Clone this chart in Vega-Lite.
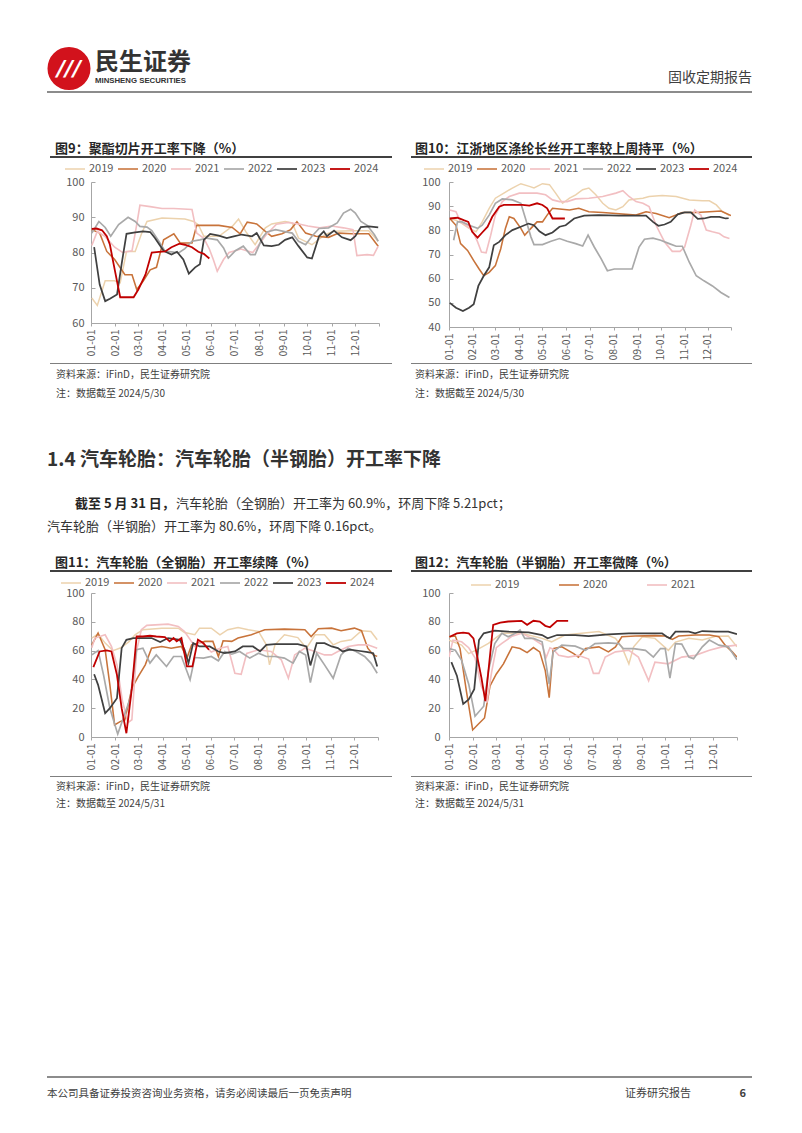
{
"$schema": "https://vega.github.io/schema/vega-lite/v6.json",
"padding": {"left": 47, "top": 46, "right": 0, "bottom": 0},
"autosize": {"type": "pad"},
"background": "white",
"config": {
  "font": "Noto Sans CJK SC",
  "view": {"stroke": null},
  "title": {"font": "Noto Sans CJK SC", "anchor": "start", "frame": "group", "subtitleFont": "Noto Sans CJK SC"},
  "axis": {"labelFont": "Noto Sans CJK SC", "grid": false, "domainColor": "#a6a6a6", "tickColor": "#a6a6a6", "labelColor": "#595959", "domainWidth": 1},
  "legend": {"labelFont": "Noto Sans CJK SC"}
},
"datasets": {
"fig9": [
{"year":"2019","day":1,"rate":67.1},{"year":"2019","day":8,"rate":65},{"year":"2019","day":18,"rate":72},{"year":"2019","day":30,"rate":72},{"year":"2019","day":37,"rate":71.4},{"year":"2019","day":45,"rate":80.3},{"year":"2019","day":56,"rate":80.3},{"year":"2019","day":64,"rate":85.3},{"year":"2019","day":71,"rate":88.8},{"year":"2019","day":90,"rate":89.8},{"year":"2019","day":119,"rate":89.5},{"year":"2019","day":130,"rate":88.8},{"year":"2019","day":136,"rate":87.9},{"year":"2019","day":143,"rate":84.6},{"year":"2019","day":162,"rate":84.6},{"year":"2019","day":179,"rate":87.4},{"year":"2019","day":187,"rate":89.5},{"year":"2019","day":196,"rate":86},{"year":"2019","day":208,"rate":82.2},{"year":"2019","day":221,"rate":87},{"year":"2019","day":229,"rate":88.1},{"year":"2019","day":246,"rate":88.8},{"year":"2019","day":255,"rate":88.4},{"year":"2019","day":263,"rate":84.1},{"year":"2019","day":280,"rate":82.2},{"year":"2019","day":297,"rate":85.1},{"year":"2019","day":308,"rate":86},{"year":"2019","day":331,"rate":86.2},{"year":"2019","day":352,"rate":86.2},{"year":"2019","day":364,"rate":83.2},
{"year":"2020","day":1,"rate":86.5},{"year":"2020","day":11,"rate":85.5},{"year":"2020","day":20,"rate":80.3},{"year":"2020","day":30,"rate":78},{"year":"2020","day":43,"rate":73.7},{"year":"2020","day":52,"rate":73.7},{"year":"2020","day":58,"rate":69.5},{"year":"2020","day":66,"rate":71.8},{"year":"2020","day":75,"rate":75.1},{"year":"2020","day":83,"rate":75.8},{"year":"2020","day":92,"rate":83.6},{"year":"2020","day":105,"rate":85.3},{"year":"2020","day":113,"rate":82.7},{"year":"2020","day":128,"rate":82.7},{"year":"2020","day":134,"rate":87.7},{"year":"2020","day":162,"rate":87.7},{"year":"2020","day":179,"rate":87.1},{"year":"2020","day":189,"rate":85.3},{"year":"2020","day":198,"rate":88.6},{"year":"2020","day":210,"rate":88.1},{"year":"2020","day":221,"rate":86},{"year":"2020","day":229,"rate":84.6},{"year":"2020","day":242,"rate":85.3},{"year":"2020","day":253,"rate":86.5},{"year":"2020","day":261,"rate":88.7},{"year":"2020","day":272,"rate":85.5},{"year":"2020","day":285,"rate":84.6},{"year":"2020","day":301,"rate":84.3},{"year":"2020","day":314,"rate":85.5},{"year":"2020","day":331,"rate":85.3},{"year":"2020","day":352,"rate":85.3},{"year":"2020","day":364,"rate":81.8},
{"year":"2021","day":1,"rate":82},{"year":"2021","day":8,"rate":86},{"year":"2021","day":18,"rate":84.5},{"year":"2021","day":30,"rate":81.5},{"year":"2021","day":40,"rate":80},{"year":"2021","day":52,"rate":80.5},{"year":"2021","day":58,"rate":88},{"year":"2021","day":62,"rate":93.4},{"year":"2021","day":75,"rate":93},{"year":"2021","day":90,"rate":92.5},{"year":"2021","day":105,"rate":92.5},{"year":"2021","day":128,"rate":92.2},{"year":"2021","day":134,"rate":85.5},{"year":"2021","day":143,"rate":84},{"year":"2021","day":150,"rate":81},{"year":"2021","day":155,"rate":78},{"year":"2021","day":160,"rate":74.7},{"year":"2021","day":168,"rate":78},{"year":"2021","day":175,"rate":80},{"year":"2021","day":190,"rate":81},{"year":"2021","day":205,"rate":80},{"year":"2021","day":212,"rate":82},{"year":"2021","day":222,"rate":85},{"year":"2021","day":235,"rate":88},{"year":"2021","day":250,"rate":88.5},{"year":"2021","day":265,"rate":88},{"year":"2021","day":275,"rate":87.5},{"year":"2021","day":290,"rate":87},{"year":"2021","day":305,"rate":87.5},{"year":"2021","day":320,"rate":87},{"year":"2021","day":332,"rate":86.5},{"year":"2021","day":337,"rate":79.1},{"year":"2021","day":350,"rate":79.4},{"year":"2021","day":358,"rate":79.2},{"year":"2021","day":364,"rate":81.8},
{"year":"2022","day":1,"rate":85.5},{"year":"2022","day":10,"rate":88.8},{"year":"2022","day":18,"rate":87.1},{"year":"2022","day":25,"rate":84.6},{"year":"2022","day":35,"rate":87.9},{"year":"2022","day":47,"rate":90},{"year":"2022","day":56,"rate":88.8},{"year":"2022","day":62,"rate":87.4},{"year":"2022","day":71,"rate":87.2},{"year":"2022","day":77,"rate":86.2},{"year":"2022","day":86,"rate":83.2},{"year":"2022","day":94,"rate":80.3},{"year":"2022","day":102,"rate":80.2},{"year":"2022","day":111,"rate":79.9},{"year":"2022","day":119,"rate":81.1},{"year":"2022","day":128,"rate":83.2},{"year":"2022","day":138,"rate":83.6},{"year":"2022","day":147,"rate":84.1},{"year":"2022","day":160,"rate":83.6},{"year":"2022","day":168,"rate":81.3},{"year":"2022","day":174,"rate":78.4},{"year":"2022","day":183,"rate":80.5},{"year":"2022","day":193,"rate":81.8},{"year":"2022","day":202,"rate":79.4},{"year":"2022","day":208,"rate":79.4},{"year":"2022","day":217,"rate":84.1},{"year":"2022","day":223,"rate":85.8},{"year":"2022","day":234,"rate":86.5},{"year":"2022","day":244,"rate":86},{"year":"2022","day":255,"rate":85.5},{"year":"2022","day":263,"rate":83.2},{"year":"2022","day":272,"rate":82.2},{"year":"2022","day":280,"rate":84.6},{"year":"2022","day":289,"rate":86.8},{"year":"2022","day":301,"rate":87},{"year":"2022","day":312,"rate":88.4},{"year":"2022","day":320,"rate":91.2},{"year":"2022","day":329,"rate":92.3},{"year":"2022","day":335,"rate":91.2},{"year":"2022","day":342,"rate":88.8},{"year":"2022","day":350,"rate":87.7},{"year":"2022","day":359,"rate":85.1},{"year":"2022","day":364,"rate":83.2},
{"year":"2023","day":4,"rate":81.5},{"year":"2023","day":11,"rate":70.9},{"year":"2023","day":18,"rate":66.2},{"year":"2023","day":24,"rate":66.9},{"year":"2023","day":33,"rate":68.1},{"year":"2023","day":39,"rate":77},{"year":"2023","day":45,"rate":85.3},{"year":"2023","day":56,"rate":85.7},{"year":"2023","day":66,"rate":86},{"year":"2023","day":75,"rate":85.8},{"year":"2023","day":81,"rate":84.1},{"year":"2023","day":92,"rate":80.5},{"year":"2023","day":102,"rate":79.4},{"year":"2023","day":109,"rate":80.2},{"year":"2023","day":117,"rate":78},{"year":"2023","day":124,"rate":74},{"year":"2023","day":132,"rate":75.8},{"year":"2023","day":138,"rate":76.7},{"year":"2023","day":143,"rate":83.6},{"year":"2023","day":151,"rate":85.3},{"year":"2023","day":162,"rate":84.8},{"year":"2023","day":172,"rate":84.1},{"year":"2023","day":181,"rate":84.6},{"year":"2023","day":191,"rate":85.1},{"year":"2023","day":204,"rate":84.6},{"year":"2023","day":210,"rate":85.5},{"year":"2023","day":219,"rate":82},{"year":"2023","day":229,"rate":81.8},{"year":"2023","day":238,"rate":82.2},{"year":"2023","day":246,"rate":83.6},{"year":"2023","day":255,"rate":84.3},{"year":"2023","day":263,"rate":81.8},{"year":"2023","day":274,"rate":78.6},{"year":"2023","day":280,"rate":78.3},{"year":"2023","day":289,"rate":84.6},{"year":"2023","day":295,"rate":86},{"year":"2023","day":299,"rate":84.6},{"year":"2023","day":308,"rate":86.2},{"year":"2023","day":318,"rate":84.3},{"year":"2023","day":329,"rate":83.5},{"year":"2023","day":335,"rate":84.6},{"year":"2023","day":342,"rate":87.2},{"year":"2023","day":352,"rate":87.4},{"year":"2023","day":364,"rate":87.1},
{"year":"2024","day":1,"rate":86.7},{"year":"2024","day":7,"rate":86.8},{"year":"2024","day":14,"rate":86.3},{"year":"2024","day":20,"rate":84.6},{"year":"2024","day":24,"rate":82.2},{"year":"2024","day":28,"rate":77.5},{"year":"2024","day":33,"rate":71.8},{"year":"2024","day":37,"rate":67.3},{"year":"2024","day":45,"rate":67.3},{"year":"2024","day":54,"rate":67.3},{"year":"2024","day":60,"rate":69.5},{"year":"2024","day":69,"rate":73.7},{"year":"2024","day":77,"rate":80},{"year":"2024","day":86,"rate":80.2},{"year":"2024","day":94,"rate":80.3},{"year":"2024","day":102,"rate":81.5},{"year":"2024","day":112,"rate":82.5},{"year":"2024","day":119,"rate":82.2},{"year":"2024","day":128,"rate":81.5},{"year":"2024","day":136,"rate":80.2},{"year":"2024","day":143,"rate":79.6},{"year":"2024","day":150,"rate":78.3}
],
"fig10": [
{"year":"2019","day":1,"rate":84.9},{"year":"2019","day":9,"rate":84.2},{"year":"2019","day":17,"rate":82.8},{"year":"2019","day":26,"rate":80.8},{"year":"2019","day":35,"rate":79.4},{"year":"2019","day":43,"rate":83.5},{"year":"2019","day":52,"rate":89.1},{"year":"2019","day":60,"rate":93.3},{"year":"2019","day":71,"rate":95.4},{"year":"2019","day":82,"rate":97.5},{"year":"2019","day":93,"rate":99.3},{"year":"2019","day":104,"rate":98.2},{"year":"2019","day":110,"rate":97.5},{"year":"2019","day":121,"rate":99.3},{"year":"2019","day":130,"rate":98.9},{"year":"2019","day":138,"rate":95.4},{"year":"2019","day":147,"rate":91.2},{"year":"2019","day":156,"rate":93.3},{"year":"2019","day":164,"rate":94.7},{"year":"2019","day":173,"rate":96.8},{"year":"2019","day":181,"rate":97.5},{"year":"2019","day":190,"rate":94.7},{"year":"2019","day":199,"rate":91.2},{"year":"2019","day":207,"rate":89.1},{"year":"2019","day":216,"rate":88.4},{"year":"2019","day":225,"rate":89.8},{"year":"2019","day":233,"rate":92.6},{"year":"2019","day":242,"rate":93},{"year":"2019","day":251,"rate":93.3},{"year":"2019","day":259,"rate":94},{"year":"2019","day":276,"rate":94.4},{"year":"2019","day":294,"rate":94},{"year":"2019","day":311,"rate":92.6},{"year":"2019","day":328,"rate":92.2},{"year":"2019","day":337,"rate":92.2},{"year":"2019","day":346,"rate":90.5},{"year":"2019","day":354,"rate":87.7},{"year":"2019","day":363,"rate":86.1},
{"year":"2020","day":1,"rate":84.9},{"year":"2020","day":9,"rate":82.1},{"year":"2020","day":15,"rate":74.5},{"year":"2020","day":24,"rate":71.7},{"year":"2020","day":32,"rate":67.5},{"year":"2020","day":39,"rate":64},{"year":"2020","day":45,"rate":61.2},{"year":"2020","day":52,"rate":62.6},{"year":"2020","day":60,"rate":65.4},{"year":"2020","day":67,"rate":72.4},{"year":"2020","day":73,"rate":80.8},{"year":"2020","day":78,"rate":85.6},{"year":"2020","day":84,"rate":84.9},{"year":"2020","day":93,"rate":80.8},{"year":"2020","day":98,"rate":78},{"year":"2020","day":106,"rate":80.8},{"year":"2020","day":114,"rate":83.5},{"year":"2020","day":121,"rate":83.5},{"year":"2020","day":127,"rate":86.3},{"year":"2020","day":134,"rate":89.1},{"year":"2020","day":143,"rate":88.8},{"year":"2020","day":156,"rate":88.4},{"year":"2020","day":168,"rate":89.1},{"year":"2020","day":181,"rate":87.7},{"year":"2020","day":199,"rate":87.4},{"year":"2020","day":216,"rate":87},{"year":"2020","day":242,"rate":86.3},{"year":"2020","day":255,"rate":87.7},{"year":"2020","day":268,"rate":87},{"year":"2020","day":285,"rate":85.2},{"year":"2020","day":302,"rate":87.4},{"year":"2020","day":320,"rate":87.4},{"year":"2020","day":337,"rate":87.7},{"year":"2020","day":352,"rate":88},{"year":"2020","day":365,"rate":86.1},
{"year":"2021","day":1,"rate":88.4},{"year":"2021","day":9,"rate":87.7},{"year":"2021","day":15,"rate":83.5},{"year":"2021","day":22,"rate":82.1},{"year":"2021","day":30,"rate":80.1},{"year":"2021","day":37,"rate":75.2},{"year":"2021","day":42,"rate":71},{"year":"2021","day":48,"rate":70.7},{"year":"2021","day":54,"rate":78},{"year":"2021","day":60,"rate":86.3},{"year":"2021","day":69,"rate":91.9},{"year":"2021","day":78,"rate":94},{"year":"2021","day":91,"rate":95.4},{"year":"2021","day":114,"rate":95.4},{"year":"2021","day":125,"rate":94.7},{"year":"2021","day":134,"rate":92.6},{"year":"2021","day":143,"rate":91.9},{"year":"2021","day":153,"rate":91.9},{"year":"2021","day":164,"rate":93},{"year":"2021","day":181,"rate":93.3},{"year":"2021","day":199,"rate":94},{"year":"2021","day":216,"rate":95.4},{"year":"2021","day":225,"rate":96.4},{"year":"2021","day":233,"rate":94},{"year":"2021","day":242,"rate":91.9},{"year":"2021","day":251,"rate":91.2},{"year":"2021","day":259,"rate":89.8},{"year":"2021","day":268,"rate":82.1},{"year":"2021","day":279,"rate":75.2},{"year":"2021","day":289,"rate":71.3},{"year":"2021","day":299,"rate":71.3},{"year":"2021","day":305,"rate":73.1},{"year":"2021","day":313,"rate":82.1},{"year":"2021","day":318,"rate":88.4},{"year":"2021","day":326,"rate":86.3},{"year":"2021","day":333,"rate":80.1},{"year":"2021","day":341,"rate":79.4},{"year":"2021","day":350,"rate":78.7},{"year":"2021","day":356,"rate":77.3},{"year":"2021","day":363,"rate":76.6},
{"year":"2022","day":6,"rate":75.9},{"year":"2022","day":11,"rate":83.5},{"year":"2022","day":17,"rate":83.5},{"year":"2022","day":26,"rate":82.1},{"year":"2022","day":37,"rate":80.8},{"year":"2022","day":43,"rate":82.1},{"year":"2022","day":52,"rate":86.3},{"year":"2022","day":60,"rate":91.2},{"year":"2022","day":69,"rate":93},{"year":"2022","day":82,"rate":92.6},{"year":"2022","day":93,"rate":91.2},{"year":"2022","day":99,"rate":84.9},{"year":"2022","day":106,"rate":77.3},{"year":"2022","day":110,"rate":74.1},{"year":"2022","day":121,"rate":74.1},{"year":"2022","day":132,"rate":75.5},{"year":"2022","day":143,"rate":76.6},{"year":"2022","day":153,"rate":75.5},{"year":"2022","day":164,"rate":74.5},{"year":"2022","day":173,"rate":73.5},{"year":"2022","day":180,"rate":78},{"year":"2022","day":188,"rate":73.1},{"year":"2022","day":197,"rate":68.2},{"year":"2022","day":205,"rate":63.3},{"year":"2022","day":214,"rate":64},{"year":"2022","day":227,"rate":64},{"year":"2022","day":237,"rate":64},{"year":"2022","day":246,"rate":73.1},{"year":"2022","day":253,"rate":76.3},{"year":"2022","day":264,"rate":76.8},{"year":"2022","day":274,"rate":75.9},{"year":"2022","day":285,"rate":74.5},{"year":"2022","day":294,"rate":73.4},{"year":"2022","day":302,"rate":73.4},{"year":"2022","day":311,"rate":66.8},{"year":"2022","day":320,"rate":61.2},{"year":"2022","day":330,"rate":59.1},{"year":"2022","day":341,"rate":57},{"year":"2022","day":352,"rate":54.3},{"year":"2022","day":363,"rate":52.2},
{"year":"2023","day":1,"rate":50},{"year":"2023","day":9,"rate":48},{"year":"2023","day":18,"rate":46.6},{"year":"2023","day":26,"rate":48},{"year":"2023","day":32,"rate":49.4},{"year":"2023","day":38,"rate":57},{"year":"2023","day":45,"rate":61.2},{"year":"2023","day":52,"rate":64.7},{"year":"2023","day":58,"rate":73.8},{"year":"2023","day":65,"rate":75.2},{"year":"2023","day":73,"rate":78},{"year":"2023","day":82,"rate":80.1},{"year":"2023","day":93,"rate":81.5},{"year":"2023","day":103,"rate":82.8},{"year":"2023","day":110,"rate":82.1},{"year":"2023","day":117,"rate":79.6},{"year":"2023","day":125,"rate":78},{"year":"2023","day":134,"rate":79.1},{"year":"2023","day":143,"rate":81.5},{"year":"2023","day":151,"rate":82.1},{"year":"2023","day":162,"rate":84.9},{"year":"2023","day":175,"rate":86.1},{"year":"2023","day":194,"rate":86.3},{"year":"2023","day":220,"rate":86.1},{"year":"2023","day":255,"rate":86.1},{"year":"2023","day":264,"rate":83.5},{"year":"2023","day":271,"rate":81.9},{"year":"2023","day":279,"rate":82.4},{"year":"2023","day":287,"rate":83.5},{"year":"2023","day":296,"rate":86.6},{"year":"2023","day":305,"rate":87.4},{"year":"2023","day":313,"rate":87.4},{"year":"2023","day":322,"rate":84.7},{"year":"2023","day":330,"rate":84.9},{"year":"2023","day":339,"rate":85.6},{"year":"2023","day":350,"rate":85.6},{"year":"2023","day":358,"rate":84.9},{"year":"2023","day":362,"rate":85},
{"year":"2024","day":1,"rate":84.9},{"year":"2024","day":11,"rate":85.2},{"year":"2024","day":19,"rate":84.2},{"year":"2024","day":25,"rate":83.5},{"year":"2024","day":30,"rate":79.4},{"year":"2024","day":37,"rate":77},{"year":"2024","day":43,"rate":79.1},{"year":"2024","day":50,"rate":81.5},{"year":"2024","day":56,"rate":85.6},{"year":"2024","day":65,"rate":89.8},{"year":"2024","day":71,"rate":90.5},{"year":"2024","day":82,"rate":90.5},{"year":"2024","day":95,"rate":90.5},{"year":"2024","day":104,"rate":90.2},{"year":"2024","day":114,"rate":91.2},{"year":"2024","day":121,"rate":90.5},{"year":"2024","day":127,"rate":89.1},{"year":"2024","day":134,"rate":84.9},{"year":"2024","day":140,"rate":84.9},{"year":"2024","day":150,"rate":84.9}
],
"fig11": [
{"year":"2019","day":1,"rate":68.7},{"year":"2019","day":9,"rate":71.5},{"year":"2019","day":18,"rate":65.2},{"year":"2019","day":28,"rate":60},{"year":"2019","day":38,"rate":62},{"year":"2019","day":48,"rate":66},{"year":"2019","day":56,"rate":71},{"year":"2019","day":66,"rate":74.5},{"year":"2019","day":90,"rate":75.6},{"year":"2019","day":111,"rate":75.6},{"year":"2019","day":119,"rate":72.5},{"year":"2019","day":132,"rate":71},{"year":"2019","day":138,"rate":75.6},{"year":"2019","day":153,"rate":75.6},{"year":"2019","day":164,"rate":71},{"year":"2019","day":174,"rate":74.5},{"year":"2019","day":187,"rate":76.1},{"year":"2019","day":200,"rate":74.5},{"year":"2019","day":213,"rate":73.3},{"year":"2019","day":223,"rate":64},{"year":"2019","day":227,"rate":50.1},{"year":"2019","day":234,"rate":64},{"year":"2019","day":246,"rate":71},{"year":"2019","day":263,"rate":69},{"year":"2019","day":274,"rate":61.7},{"year":"2019","day":285,"rate":71},{"year":"2019","day":297,"rate":71},{"year":"2019","day":308,"rate":64},{"year":"2019","day":318,"rate":66.4},{"year":"2019","day":331,"rate":67.5},{"year":"2019","day":344,"rate":73.8},{"year":"2019","day":356,"rate":73.3},{"year":"2019","day":364,"rate":67.5},
{"year":"2020","day":1,"rate":64},{"year":"2020","day":9,"rate":72.2},{"year":"2020","day":18,"rate":60.6},{"year":"2020","day":24,"rate":36.2},{"year":"2020","day":30,"rate":8.4},{"year":"2020","day":37,"rate":10.7},{"year":"2020","day":43,"rate":11.8},{"year":"2020","day":52,"rate":33.9},{"year":"2020","day":60,"rate":42},{"year":"2020","day":69,"rate":50.1},{"year":"2020","day":77,"rate":61.7},{"year":"2020","day":90,"rate":62.9},{"year":"2020","day":102,"rate":61.7},{"year":"2020","day":115,"rate":62.9},{"year":"2020","day":122,"rate":54.8},{"year":"2020","day":128,"rate":64},{"year":"2020","day":145,"rate":66.4},{"year":"2020","day":155,"rate":66.4},{"year":"2020","day":162,"rate":55.9},{"year":"2020","day":168,"rate":66.8},{"year":"2020","day":179,"rate":66.4},{"year":"2020","day":187,"rate":68.7},{"year":"2020","day":204,"rate":71},{"year":"2020","day":221,"rate":74.5},{"year":"2020","day":246,"rate":74.9},{"year":"2020","day":272,"rate":74.5},{"year":"2020","day":280,"rate":69.8},{"year":"2020","day":289,"rate":75.2},{"year":"2020","day":306,"rate":75.6},{"year":"2020","day":318,"rate":73.8},{"year":"2020","day":335,"rate":75.6},{"year":"2020","day":344,"rate":73.8},{"year":"2020","day":352,"rate":61.7},{"year":"2020","day":359,"rate":57},{"year":"2020","day":364,"rate":56},
{"year":"2021","day":1,"rate":62},{"year":"2021","day":5,"rate":68.7},{"year":"2021","day":18,"rate":71},{"year":"2021","day":26,"rate":62.9},{"year":"2021","day":33,"rate":50},{"year":"2021","day":40,"rate":25},{"year":"2021","day":47,"rate":10},{"year":"2021","day":52,"rate":12},{"year":"2021","day":58,"rate":60},{"year":"2021","day":64,"rate":74.5},{"year":"2021","day":71,"rate":77.5},{"year":"2021","day":98,"rate":78.4},{"year":"2021","day":111,"rate":76.8},{"year":"2021","day":119,"rate":73.3},{"year":"2021","day":132,"rate":62.9},{"year":"2021","day":140,"rate":66},{"year":"2021","day":153,"rate":59},{"year":"2021","day":164,"rate":61.7},{"year":"2021","day":174,"rate":62.9},{"year":"2021","day":183,"rate":44.3},{"year":"2021","day":191,"rate":43.6},{"year":"2021","day":198,"rate":58},{"year":"2021","day":213,"rate":60.6},{"year":"2021","day":229,"rate":59.4},{"year":"2021","day":242,"rate":53.6},{"year":"2021","day":251,"rate":40.8},{"year":"2021","day":259,"rate":57},{"year":"2021","day":272,"rate":61.7},{"year":"2021","day":285,"rate":59.4},{"year":"2021","day":297,"rate":57},{"year":"2021","day":306,"rate":57},{"year":"2021","day":314,"rate":59.4},{"year":"2021","day":327,"rate":62.9},{"year":"2021","day":340,"rate":64},{"year":"2021","day":352,"rate":64},{"year":"2021","day":364,"rate":61.7},
{"year":"2022","day":1,"rate":57},{"year":"2022","day":9,"rate":60},{"year":"2022","day":16,"rate":43},{"year":"2022","day":24,"rate":20},{"year":"2022","day":34,"rate":2},{"year":"2022","day":41,"rate":13},{"year":"2022","day":50,"rate":27},{"year":"2022","day":58,"rate":60.6},{"year":"2022","day":66,"rate":61.7},{"year":"2022","day":75,"rate":51.3},{"year":"2022","day":83,"rate":57},{"year":"2022","day":96,"rate":49},{"year":"2022","day":105,"rate":55.9},{"year":"2022","day":115,"rate":55.9},{"year":"2022","day":126,"rate":39.7},{"year":"2022","day":132,"rate":55.2},{"year":"2022","day":143,"rate":54.8},{"year":"2022","day":153,"rate":55.9},{"year":"2022","day":162,"rate":52.9},{"year":"2022","day":170,"rate":59.4},{"year":"2022","day":179,"rate":57.5},{"year":"2022","day":189,"rate":59.4},{"year":"2022","day":202,"rate":54.8},{"year":"2022","day":213,"rate":58.2},{"year":"2022","day":223,"rate":55.9},{"year":"2022","day":234,"rate":55.9},{"year":"2022","day":246,"rate":54.8},{"year":"2022","day":257,"rate":51.3},{"year":"2022","day":265,"rate":59.4},{"year":"2022","day":273,"rate":57},{"year":"2022","day":279,"rate":37.8},{"year":"2022","day":287,"rate":58.2},{"year":"2022","day":297,"rate":50.1},{"year":"2022","day":308,"rate":40.8},{"year":"2022","day":318,"rate":57},{"year":"2022","day":327,"rate":61.7},{"year":"2022","day":337,"rate":59.4},{"year":"2022","day":348,"rate":55.9},{"year":"2022","day":356,"rate":51.3},{"year":"2022","day":364,"rate":44.3},
{"year":"2023","day":4,"rate":43.6},{"year":"2023","day":9,"rate":36.2},{"year":"2023","day":18,"rate":16.5},{"year":"2023","day":24,"rate":20},{"year":"2023","day":33,"rate":26.9},{"year":"2023","day":39,"rate":61.7},{"year":"2023","day":45,"rate":67.5},{"year":"2023","day":54,"rate":68.7},{"year":"2023","day":77,"rate":68.7},{"year":"2023","day":88,"rate":65.9},{"year":"2023","day":98,"rate":68.7},{"year":"2023","day":113,"rate":67.5},{"year":"2023","day":119,"rate":60.6},{"year":"2023","day":124,"rate":51.3},{"year":"2023","day":130,"rate":65.2},{"year":"2023","day":138,"rate":62.9},{"year":"2023","day":151,"rate":62.9},{"year":"2023","day":162,"rate":59.4},{"year":"2023","day":170,"rate":58.2},{"year":"2023","day":183,"rate":59.4},{"year":"2023","day":193,"rate":62.9},{"year":"2023","day":206,"rate":62.9},{"year":"2023","day":215,"rate":59.4},{"year":"2023","day":223,"rate":64},{"year":"2023","day":234,"rate":64.5},{"year":"2023","day":263,"rate":64.5},{"year":"2023","day":274,"rate":62.9},{"year":"2023","day":279,"rate":49.7},{"year":"2023","day":287,"rate":65.2},{"year":"2023","day":297,"rate":65.2},{"year":"2023","day":306,"rate":62.9},{"year":"2023","day":314,"rate":61.7},{"year":"2023","day":320,"rate":59.4},{"year":"2023","day":329,"rate":60.6},{"year":"2023","day":340,"rate":59.9},{"year":"2023","day":352,"rate":58.9},{"year":"2023","day":359,"rate":58.2},{"year":"2023","day":364,"rate":49},
{"year":"2024","day":3,"rate":48.5},{"year":"2024","day":11,"rate":59.4},{"year":"2024","day":20,"rate":60.1},{"year":"2024","day":26,"rate":59.4},{"year":"2024","day":33,"rate":43.2},{"year":"2024","day":39,"rate":20},{"year":"2024","day":45,"rate":2.6},{"year":"2024","day":52,"rate":33.9},{"year":"2024","day":58,"rate":69.8},{"year":"2024","day":66,"rate":69.8},{"year":"2024","day":75,"rate":70.3},{"year":"2024","day":83,"rate":69.8},{"year":"2024","day":94,"rate":69.4},{"year":"2024","day":100,"rate":66.4},{"year":"2024","day":105,"rate":68.7},{"year":"2024","day":109,"rate":66.4},{"year":"2024","day":115,"rate":68.7},{"year":"2024","day":122,"rate":49},{"year":"2024","day":129,"rate":49},{"year":"2024","day":136,"rate":67.5},{"year":"2024","day":143,"rate":65.2},{"year":"2024","day":150,"rate":60.6}
],
"fig12": [
{"year":"2019","day":0,"rate":67.3},{"year":"2019","day":16,"rate":63.8},{"year":"2019","day":25,"rate":57.9},{"year":"2019","day":37,"rate":61},{"year":"2019","day":50,"rate":65},{"year":"2019","day":67,"rate":72},{"year":"2019","day":92,"rate":72},{"year":"2019","day":118,"rate":68.5},{"year":"2019","day":130,"rate":66.1},{"year":"2019","day":147,"rate":70.8},{"year":"2019","day":168,"rate":72},{"year":"2019","day":190,"rate":73.2},{"year":"2019","day":211,"rate":68.5},{"year":"2019","day":219,"rate":62.6},{"year":"2019","day":228,"rate":50.8},{"year":"2019","day":234,"rate":62.6},{"year":"2019","day":245,"rate":69.6},{"year":"2019","day":261,"rate":68.5},{"year":"2019","day":278,"rate":60.2},{"year":"2019","day":287,"rate":65.9},{"year":"2019","day":304,"rate":68.5},{"year":"2019","day":321,"rate":67.3},{"year":"2019","day":338,"rate":70},{"year":"2019","day":354,"rate":70.1},{"year":"2019","day":365,"rate":62.6},
{"year":"2020","day":0,"rate":69.6},{"year":"2020","day":8,"rate":70.1},{"year":"2020","day":14,"rate":61.4},{"year":"2020","day":22,"rate":32},{"year":"2020","day":30,"rate":4.9},{"year":"2020","day":37,"rate":8.9},{"year":"2020","day":45,"rate":13.2},{"year":"2020","day":52,"rate":35.5},{"year":"2020","day":60,"rate":43.8},{"year":"2020","day":69,"rate":50.8},{"year":"2020","day":80,"rate":62.6},{"year":"2020","day":90,"rate":61.4},{"year":"2020","day":99,"rate":58.6},{"year":"2020","day":107,"rate":62.1},{"year":"2020","day":115,"rate":59.1},{"year":"2020","day":122,"rate":46.1},{"year":"2020","day":127,"rate":27.3},{"year":"2020","day":132,"rate":61.4},{"year":"2020","day":143,"rate":62.6},{"year":"2020","day":158,"rate":57.9},{"year":"2020","day":164,"rate":55.5},{"year":"2020","day":173,"rate":61.4},{"year":"2020","day":190,"rate":62.6},{"year":"2020","day":202,"rate":59.1},{"year":"2020","day":211,"rate":62.6},{"year":"2020","day":219,"rate":69.6},{"year":"2020","day":236,"rate":70.1},{"year":"2020","day":261,"rate":70.4},{"year":"2020","day":274,"rate":70.1},{"year":"2020","day":283,"rate":67.8},{"year":"2020","day":291,"rate":70.1},{"year":"2020","day":312,"rate":70.8},{"year":"2020","day":330,"rate":70.8},{"year":"2020","day":342,"rate":69.6},{"year":"2020","day":350,"rate":63.8},{"year":"2020","day":359,"rate":59.1},{"year":"2020","day":365,"rate":55.5},
{"year":"2021","day":0,"rate":55.5},{"year":"2021","day":5,"rate":67.3},{"year":"2021","day":16,"rate":66.1},{"year":"2021","day":25,"rate":62},{"year":"2021","day":33,"rate":55},{"year":"2021","day":41,"rate":35},{"year":"2021","day":46,"rate":29.6},{"year":"2021","day":48,"rate":23.8},{"year":"2021","day":54,"rate":45},{"year":"2021","day":60,"rate":62},{"year":"2021","day":67,"rate":65},{"year":"2021","day":80,"rate":70},{"year":"2021","day":92,"rate":72},{"year":"2021","day":107,"rate":68},{"year":"2021","day":118,"rate":64},{"year":"2021","day":123,"rate":55},{"year":"2021","day":128,"rate":62},{"year":"2021","day":132,"rate":61},{"year":"2021","day":139,"rate":56.7},{"year":"2021","day":151,"rate":55.5},{"year":"2021","day":164,"rate":56.7},{"year":"2021","day":177,"rate":54.1},{"year":"2021","day":183,"rate":44.2},{"year":"2021","day":190,"rate":44.2},{"year":"2021","day":198,"rate":55.5},{"year":"2021","day":211,"rate":59.1},{"year":"2021","day":228,"rate":60.2},{"year":"2021","day":240,"rate":55.5},{"year":"2021","day":253,"rate":39.1},{"year":"2021","day":261,"rate":52},{"year":"2021","day":278,"rate":50.8},{"year":"2021","day":295,"rate":55.5},{"year":"2021","day":312,"rate":56.7},{"year":"2021","day":330,"rate":60.2},{"year":"2021","day":346,"rate":62.6},{"year":"2021","day":365,"rate":63.8},
{"year":"2022","day":0,"rate":61.4},{"year":"2022","day":8,"rate":60.2},{"year":"2022","day":16,"rate":53.2},{"year":"2022","day":25,"rate":36.7},{"year":"2022","day":33,"rate":14.4},{"year":"2022","day":44,"rate":21.4},{"year":"2022","day":50,"rate":46.1},{"year":"2022","day":58,"rate":64.9},{"year":"2022","day":67,"rate":72},{"year":"2022","day":75,"rate":69.6},{"year":"2022","day":84,"rate":72},{"year":"2022","day":90,"rate":74.4},{"year":"2022","day":96,"rate":68.5},{"year":"2022","day":107,"rate":68.5},{"year":"2022","day":118,"rate":66.1},{"year":"2022","day":123,"rate":50.8},{"year":"2022","day":127,"rate":36.7},{"year":"2022","day":132,"rate":59.1},{"year":"2022","day":143,"rate":63.8},{"year":"2022","day":160,"rate":63.1},{"year":"2022","day":173,"rate":60.2},{"year":"2022","day":185,"rate":64.9},{"year":"2022","day":202,"rate":65.4},{"year":"2022","day":215,"rate":64.9},{"year":"2022","day":221,"rate":61.4},{"year":"2022","day":234,"rate":61.4},{"year":"2022","day":249,"rate":60.2},{"year":"2022","day":259,"rate":55.5},{"year":"2022","day":268,"rate":61.4},{"year":"2022","day":274,"rate":61.4},{"year":"2022","day":280,"rate":40.9},{"year":"2022","day":287,"rate":64.9},{"year":"2022","day":295,"rate":64.5},{"year":"2022","day":304,"rate":55.5},{"year":"2022","day":310,"rate":54.4},{"year":"2022","day":321,"rate":62.6},{"year":"2022","day":330,"rate":67.3},{"year":"2022","day":342,"rate":63.8},{"year":"2022","day":354,"rate":62.6},{"year":"2022","day":365,"rate":53.6},
{"year":"2023","day":3,"rate":52},{"year":"2023","day":10,"rate":42.6},{"year":"2023","day":18,"rate":23},{"year":"2023","day":25,"rate":26.1},{"year":"2023","day":32,"rate":33.2},{"year":"2023","day":38,"rate":67.3},{"year":"2023","day":44,"rate":72},{"year":"2023","day":58,"rate":73.9},{"year":"2023","day":75,"rate":73.2},{"year":"2023","day":101,"rate":72.7},{"year":"2023","day":118,"rate":70.8},{"year":"2023","day":125,"rate":68.5},{"year":"2023","day":137,"rate":70.8},{"year":"2023","day":160,"rate":70.8},{"year":"2023","day":177,"rate":70.1},{"year":"2023","day":202,"rate":71.3},{"year":"2023","day":228,"rate":72},{"year":"2023","day":270,"rate":72},{"year":"2023","day":276,"rate":69.6},{"year":"2023","day":280,"rate":68.5},{"year":"2023","day":287,"rate":73.2},{"year":"2023","day":304,"rate":73.2},{"year":"2023","day":312,"rate":72},{"year":"2023","day":321,"rate":73.6},{"year":"2023","day":338,"rate":73.2},{"year":"2023","day":354,"rate":73.2},{"year":"2023","day":365,"rate":71.5},
{"year":"2024","day":1,"rate":69.6},{"year":"2024","day":10,"rate":72},{"year":"2024","day":18,"rate":72.5},{"year":"2024","day":25,"rate":72},{"year":"2024","day":31,"rate":68.5},{"year":"2024","day":35,"rate":57.9},{"year":"2024","day":41,"rate":41.4},{"year":"2024","day":46,"rate":24.9},{"year":"2024","day":50,"rate":46.1},{"year":"2024","day":56,"rate":77.9},{"year":"2024","day":65,"rate":79.5},{"year":"2024","day":75,"rate":80.2},{"year":"2024","day":92,"rate":80.7},{"year":"2024","day":99,"rate":77.9},{"year":"2024","day":107,"rate":80.7},{"year":"2024","day":115,"rate":80.2},{"year":"2024","day":122,"rate":77.2},{"year":"2024","day":128,"rate":76.2},{"year":"2024","day":137,"rate":80.7},{"year":"2024","day":151,"rate":80.7}
]
},
"spacing": 0,
"resolve": {"scale": {"x": "independent", "y": "independent", "color": "independent", "strokeWidth": "independent"}, "legend": {"color": "independent", "strokeWidth": "independent"}},
"vconcat": [
  {"hconcat": [
    {"width": 44, "height": 45, "data": {"values": [{"logo": "民生证券"}]},
     "layer": [
       {"mark": {"type": "point", "shape": "circle", "filled": true, "size": 1850, "color": "#d2121c", "opacity": 1}},
       {"mark": {"type": "text", "text": "///", "color": "white", "fontSize": 22, "fontWeight": "bold", "fontStyle": "italic", "font": "DejaVu Sans", "baseline": "middle", "align": "center"}}
     ]},
    {"width": 100, "height": 45, "data": {"values": []}, "mark": "point",
     "title": {"text": "民生证券", "subtitle": "MINSHENG SECURITIES", "orient": "top", "anchor": "start", "frame": "group", "offset": -39, "dx": 4, "fontSize": 24, "fontWeight": "bold", "color": "#333333", "subtitleFont": "Liberation Sans", "subtitleFontSize": 7.8, "subtitleFontWeight": "bold", "subtitleColor": "#333333", "subtitlePadding": 2}},
    {"width": 561, "height": 45, "data": {"values": []}, "mark": "point",
     "title": {"text": "固收定期报告", "orient": "top", "anchor": "end", "frame": "group", "offset": -39, "fontSize": 14, "fontWeight": "normal", "color": "#404040"}}
  ], "spacing": 0, "bounds": "flush"},
  {"width": 705, "height": 2, "data": {"values": []}, "mark": "point", "view": {"fill": "#8c8c8c", "stroke": null}},
  {"width": 1, "height": 48, "data": {"values": []}, "mark": "point"},
  {"hconcat": [
    {"width": 3, "height": 15, "data": {"values": []}, "mark": "point"},
    {"width": 342, "height": 15, "data": {"values": []}, "mark": "point",
     "title": {"text": "图9：聚酯切片开工率下降（%）", "orient": "top", "anchor": "start", "frame": "group", "dx": 5, "offset": -15, "fontSize": 13, "fontWeight": "bold", "color": "#262626"}},
    {"width": 19, "height": 15, "data": {"values": []}, "mark": "point"},
    {"width": 341, "height": 15, "data": {"values": []}, "mark": "point",
     "title": {"text": "图10：江浙地区涤纶长丝开工率较上周持平（%）", "orient": "top", "anchor": "start", "frame": "group", "dx": 4, "offset": -15, "fontSize": 13, "fontWeight": "bold", "color": "#262626"}}
  ], "spacing": 0, "bounds": "flush"},
  {"hconcat": [
    {"width": 3, "height": 2, "data": {"values": []}, "mark": "point"},
    {"width": 342, "height": 2, "data": {"values": []}, "mark": "point", "view": {"fill": "#404040", "stroke": null}},
    {"width": 19, "height": 2, "data": {"values": []}, "mark": "point"},
    {"width": 341, "height": 2, "data": {"values": []}, "mark": "point", "view": {"fill": "#404040", "stroke": null}}
  ], "spacing": 0, "bounds": "flush"},
  {"hconcat": [
    {"width": 44, "height": 181, "data": {"values": []}, "mark": "point"},
    {"width": 288, "height": 141, "data": {"name": "fig9"},
     "mark": {"type": "line", "clip": true},
     "encoding": {
       "x": {"field": "day", "type": "quantitative", "scale": {"domain": [0, 365], "nice": false, "zero": false},
             "axis": {"title": null, "values": [0,31,60,91,121,152,182,213,244,274,305,335,365], "labelExpr": "datum.value > 360 ? '' : timeFormat(datetime(2024, 0, 1 + datum.value), '%m-%d')", "labelAngle": -90, "labelFontSize": 10.5, "tickSize": 3, "labelPadding": 3, "labelOverlap": false, "labelBound": false, "labelFlush": false}},
       "y": {"field": "rate", "type": "quantitative", "scale": {"domain": [60, 100], "nice": false, "zero": false},
             "axis": {"title": null, "values": [60,70,80,90,100], "labelFontSize": 11, "tickSize": -4, "labelPadding": 11}},
       "color": {"field": "year", "type": "nominal",
                 "scale": {"domain": ["2019","2020","2021","2022","2023","2024"], "range": ["#ecd2ad","#c8733a","#f2bfc2","#a9a9a9","#404040","#c00000"]},
                 "legend": {"orient": "none", "legendX": -27, "legendY": -24, "direction": "horizontal", "columns": 6, "title": null, "symbolType": "stroke", "symbolSize": 400, "symbolStrokeWidth": 2, "labelFontSize": 11, "labelColor": "#595959", "columnPadding": 0, "labelOffset": 3}},
       "strokeWidth": {"field": "year", "type": "ordinal", "scale": {"domain": ["2019","2020","2021","2022","2023","2024"], "range": [1.5,1.8,1.5,1.5,1.8,2.2]}, "legend": null}
     }},
    {"width": 70, "height": 1, "data": {"values": []}, "mark": "point"},
    {"width": 282, "height": 145, "data": {"name": "fig10"},
     "mark": {"type": "line", "clip": true},
     "encoding": {
       "x": {"field": "day", "type": "quantitative", "scale": {"domain": [0, 365], "nice": false, "zero": false},
             "axis": {"title": null, "values": [0,31,60,91,121,152,182,213,244,274,305,335,365], "labelExpr": "datum.value > 360 ? '' : timeFormat(datetime(2024, 0, 1 + datum.value), '%m-%d')", "labelAngle": -90, "labelFontSize": 10.5, "tickSize": 3, "labelPadding": 3, "labelOverlap": false, "labelBound": false, "labelFlush": false}},
       "y": {"field": "rate", "type": "quantitative", "scale": {"domain": [40, 100], "nice": false, "zero": false},
             "axis": {"title": null, "values": [40,50,60,70,80,90,100], "labelFontSize": 11, "tickSize": -4, "labelPadding": 13}},
       "color": {"field": "year", "type": "nominal",
                 "scale": {"domain": ["2019","2020","2021","2022","2023","2024"], "range": ["#ecd2ad","#c8733a","#f2bfc2","#a9a9a9","#404040","#c00000"]},
                 "legend": {"orient": "none", "legendX": -26, "legendY": -24, "direction": "horizontal", "columns": 6, "title": null, "symbolType": "stroke", "symbolSize": 400, "symbolStrokeWidth": 2, "labelFontSize": 11, "labelColor": "#595959", "columnPadding": 0, "labelOffset": 3}},
       "strokeWidth": {"field": "year", "type": "ordinal", "scale": {"domain": ["2019","2020","2021","2022","2023","2024"], "range": [1.5,1.8,1.5,1.5,1.8,2.2]}, "legend": null}
     }}
  ], "spacing": 0, "bounds": "flush",
  "resolve": {"scale": {"x": "independent", "y": "independent", "color": "independent", "strokeWidth": "independent"}, "legend": {"color": "independent", "strokeWidth": "independent"}}},
  {"hconcat": [
    {"width": 3, "height": 1, "data": {"values": []}, "mark": "point"},
    {"width": 342, "height": 1, "data": {"values": []}, "mark": "point", "view": {"fill": "#7f7f7f", "stroke": null}},
    {"width": 19, "height": 1, "data": {"values": []}, "mark": "point"},
    {"width": 341, "height": 1, "data": {"values": []}, "mark": "point", "view": {"fill": "#7f7f7f", "stroke": null}}
  ], "spacing": 0, "bounds": "flush"},
  {"hconcat": [
    {"width": 3, "height": 40, "data": {"values": []}, "mark": "point"},
    {"width": 342, "height": 40, "data": {"values": []}, "mark": "point",
     "title": {"text": ["资料来源：iFinD，民生证券研究院", "注：数据截至 2024/5/30"], "orient": "top", "anchor": "start", "frame": "group", "dx": 6, "offset": -35, "fontSize": 10, "fontWeight": "normal", "lineHeight": 19, "color": "#404040"}},
    {"width": 19, "height": 40, "data": {"values": []}, "mark": "point"},
    {"width": 341, "height": 40, "data": {"values": []}, "mark": "point",
     "title": {"text": ["资料来源：iFinD，民生证券研究院", "注：数据截至 2024/5/30"], "orient": "top", "anchor": "start", "frame": "group", "dx": 4, "offset": -35, "fontSize": 10, "fontWeight": "normal", "lineHeight": 19, "color": "#404040"}}
  ], "spacing": 0, "bounds": "flush"},
  {"width": 1, "height": 36, "data": {"values": []}, "mark": "point"},
  {"width": 705, "height": 30, "data": {"values": []}, "mark": "point",
   "title": {"text": "1.4 汽车轮胎：汽车轮胎（半钢胎）开工率下降", "orient": "top", "anchor": "start", "frame": "group", "offset": -30, "fontSize": 19, "fontWeight": "bold", "color": "#333333"}},
  {"hconcat": [
    {"width": 28, "height": 41, "data": {"values": []}, "mark": "point"},
    {"width": 101, "height": 41, "data": {"values": []}, "mark": "point",
     "title": {"text": "截至 5 月 31 日，", "orient": "top", "anchor": "start", "frame": "group", "offset": -41, "fontSize": 13, "fontWeight": "bold", "color": "#262626"}},
    {"width": 576, "height": 41, "data": {"values": []}, "mark": "point",
     "title": {"text": "汽车轮胎（全钢胎）开工率为 60.9%，环周下降 5.21pct；", "orient": "top", "anchor": "start", "frame": "group", "offset": -41, "fontSize": 13, "fontWeight": "normal", "color": "#333333"}}
  ], "spacing": 0, "bounds": "flush"},
  {"width": 705, "height": 23, "data": {"values": []}, "mark": "point",
   "title": {"text": "汽车轮胎（半钢胎）开工率为 80.6%，环周下降 0.16pct。", "orient": "top", "anchor": "start", "frame": "group", "offset": -23, "fontSize": 13, "fontWeight": "normal", "color": "#333333"}},
  {"width": 1, "height": 21, "data": {"values": []}, "mark": "point"},
  {"hconcat": [
    {"width": 3, "height": 15, "data": {"values": []}, "mark": "point"},
    {"width": 342, "height": 15, "data": {"values": []}, "mark": "point",
     "title": {"text": "图11：汽车轮胎（全钢胎）开工率续降（%）", "orient": "top", "anchor": "start", "frame": "group", "dx": 5, "offset": -15, "fontSize": 13, "fontWeight": "bold", "color": "#262626"}},
    {"width": 19, "height": 15, "data": {"values": []}, "mark": "point"},
    {"width": 341, "height": 15, "data": {"values": []}, "mark": "point",
     "title": {"text": "图12：汽车轮胎（半钢胎）开工率微降（%）", "orient": "top", "anchor": "start", "frame": "group", "dx": 4, "offset": -15, "fontSize": 13, "fontWeight": "bold", "color": "#262626"}}
  ], "spacing": 0, "bounds": "flush"},
  {"hconcat": [
    {"width": 3, "height": 2, "data": {"values": []}, "mark": "point"},
    {"width": 342, "height": 2, "data": {"values": []}, "mark": "point", "view": {"fill": "#404040", "stroke": null}},
    {"width": 19, "height": 2, "data": {"values": []}, "mark": "point"},
    {"width": 341, "height": 2, "data": {"values": []}, "mark": "point", "view": {"fill": "#404040", "stroke": null}}
  ], "spacing": 0, "bounds": "flush"},
  {"hconcat": [
    {"width": 44, "height": 183, "data": {"values": []}, "mark": "point"},
    {"width": 287, "height": 144, "data": {"name": "fig11"},
     "mark": {"type": "line", "clip": true},
     "encoding": {
       "x": {"field": "day", "type": "quantitative", "scale": {"domain": [0, 365], "nice": false, "zero": false},
             "axis": {"title": null, "values": [0,31,60,91,121,152,182,213,244,274,305,335,365], "labelExpr": "datum.value > 360 ? '' : timeFormat(datetime(2024, 0, 1 + datum.value), '%m-%d')", "labelAngle": -90, "labelFontSize": 10.5, "tickSize": 3, "labelPadding": 3, "labelOverlap": false, "labelBound": false, "labelFlush": false}},
       "y": {"field": "rate", "type": "quantitative", "scale": {"domain": [0, 100], "nice": false, "zero": false},
             "axis": {"title": null, "values": [0,20,40,60,80,100], "labelFontSize": 11, "tickSize": -4, "labelPadding": 11}},
       "color": {"field": "year", "type": "nominal",
                 "scale": {"domain": ["2019","2020","2021","2022","2023","2024"], "range": ["#ecd2ad","#c8733a","#f2bfc2","#a9a9a9","#404040","#c00000"]},
                 "legend": {"orient": "none", "legendX": -31, "legendY": -21, "direction": "horizontal", "columns": 6, "title": null, "symbolType": "stroke", "symbolSize": 400, "symbolStrokeWidth": 2, "labelFontSize": 11, "labelColor": "#595959", "columnPadding": 0, "labelOffset": 3}},
       "strokeWidth": {"field": "year", "type": "ordinal", "scale": {"domain": ["2019","2020","2021","2022","2023","2024"], "range": [1.5,1.8,1.5,1.5,1.8,2.2]}, "legend": null}
     }},
    {"width": 71, "height": 1, "data": {"values": []}, "mark": "point"},
    {"width": 288, "height": 144, "data": {"name": "fig12"},
     "mark": {"type": "line", "clip": true},
     "encoding": {
       "x": {"field": "day", "type": "quantitative", "scale": {"domain": [0, 365], "nice": false, "zero": false},
             "axis": {"title": null, "values": [0,31,60,91,121,152,182,213,244,274,305,335,365], "labelExpr": "datum.value > 360 ? '' : timeFormat(datetime(2024, 0, 1 + datum.value), '%m-%d')", "labelAngle": -90, "labelFontSize": 10.5, "tickSize": 3, "labelPadding": 3, "labelOverlap": false, "labelBound": false, "labelFlush": false}},
       "y": {"field": "rate", "type": "quantitative", "scale": {"domain": [0, 100], "nice": false, "zero": false},
             "axis": {"title": null, "values": [0,20,40,60,80,100], "labelFontSize": 11, "tickSize": -4, "labelPadding": 13}},
       "color": {"field": "year", "type": "nominal",
                 "scale": {"domain": ["2019","2020","2021","2022","2023","2024"], "range": ["#ecd2ad","#c8733a","#f2bfc2","#a9a9a9","#404040","#c00000"]},
                 "legend": {"orient": "none", "legendX": 21, "legendY": -19, "direction": "horizontal", "columns": 3, "values": ["2019","2020","2021"], "title": null, "symbolType": "stroke", "symbolSize": 400, "symbolStrokeWidth": 2, "labelFontSize": 11, "labelColor": "#595959", "columnPadding": 35, "labelOffset": 3}},
       "strokeWidth": {"field": "year", "type": "ordinal", "scale": {"domain": ["2019","2020","2021","2022","2023","2024"], "range": [1.5,1.8,1.5,1.5,1.8,2.2]}, "legend": null}
     }}
  ], "spacing": 0, "bounds": "flush",
  "resolve": {"scale": {"x": "independent", "y": "independent", "color": "independent", "strokeWidth": "independent"}, "legend": {"color": "independent", "strokeWidth": "independent"}}},
  {"hconcat": [
    {"width": 3, "height": 1, "data": {"values": []}, "mark": "point"},
    {"width": 342, "height": 1, "data": {"values": []}, "mark": "point", "view": {"fill": "#7f7f7f", "stroke": null}},
    {"width": 19, "height": 1, "data": {"values": []}, "mark": "point"},
    {"width": 341, "height": 1, "data": {"values": []}, "mark": "point", "view": {"fill": "#7f7f7f", "stroke": null}}
  ], "spacing": 0, "bounds": "flush"},
  {"hconcat": [
    {"width": 3, "height": 40, "data": {"values": []}, "mark": "point"},
    {"width": 342, "height": 40, "data": {"values": []}, "mark": "point",
     "title": {"text": ["资料来源：iFinD，民生证券研究院", "注：数据截至 2024/5/31"], "orient": "top", "anchor": "start", "frame": "group", "dx": 6, "offset": -32, "fontSize": 10, "fontWeight": "normal", "lineHeight": 17, "color": "#404040"}},
    {"width": 19, "height": 40, "data": {"values": []}, "mark": "point"},
    {"width": 341, "height": 40, "data": {"values": []}, "mark": "point",
     "title": {"text": ["资料来源：iFinD，民生证券研究院", "注：数据截至 2024/5/31"], "orient": "top", "anchor": "start", "frame": "group", "dx": 4, "offset": -32, "fontSize": 10, "fontWeight": "normal", "lineHeight": 17, "color": "#404040"}}
  ], "spacing": 0, "bounds": "flush"},
  {"width": 1, "height": 259, "data": {"values": []}, "mark": "point"},
  {"width": 705, "height": 2, "data": {"values": []}, "mark": "point", "view": {"fill": "#8c8c8c", "stroke": null}},
  {"hconcat": [
    {"width": 578, "height": 22, "data": {"values": []}, "mark": "point",
     "title": {"text": "本公司具备证券投资咨询业务资格，请务必阅读最后一页免责声明", "orient": "top", "anchor": "start", "frame": "group", "offset": -21, "fontSize": 10.5, "fontWeight": "normal", "color": "#404040"}},
    {"width": 65, "height": 22, "data": {"values": []}, "mark": "point",
     "title": {"text": "证券研究报告", "orient": "top", "anchor": "start", "frame": "group", "offset": -21, "fontSize": 11, "fontWeight": "normal", "color": "#404040"}},
    {"width": 62, "height": 22, "data": {"values": []}, "mark": "point",
     "title": {"text": "6", "orient": "top", "anchor": "end", "frame": "group", "dx": -6, "offset": -21, "fontSize": 11, "fontWeight": "bold", "color": "#404040"}}
  ], "spacing": 0, "bounds": "flush"}
]
}
